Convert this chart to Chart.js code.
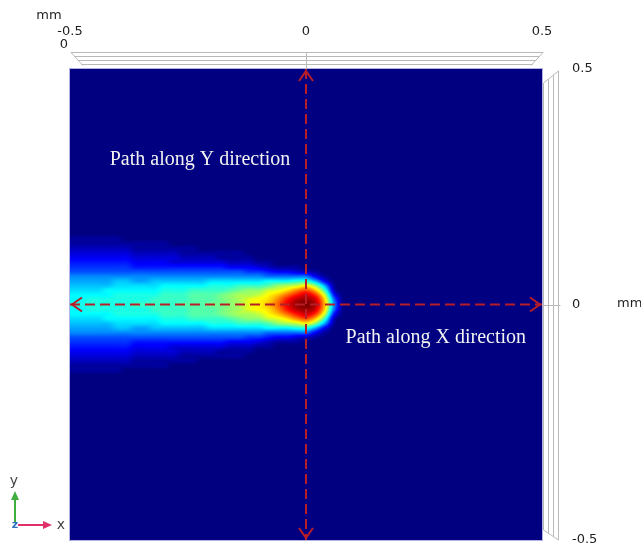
<!DOCTYPE html>
<html><head><meta charset="utf-8">
<script src="https://cdn.jsdelivr.net/npm/chart.js@4/dist/chart.umd.min.js"></script>
<style>html,body{margin:0;padding:0;background:#fff;}#wrap{width:641px;height:549px;position:relative;}</style>
</head><body><div id="wrap"><canvas id="c"></canvas></div>
<script>
// ---- axis ticks (mm)
const xTickValues = [-0.5, 0, 0.5];
const yTickValues = [-0.5, 0, 0.5];
// ---- heat-map grid: node positions (mm)
const gridX = [-0.5,-0.48,-0.46,-0.44,-0.42,-0.4,-0.38,-0.36,-0.34,-0.32,-0.3,-0.28,-0.26,-0.24,-0.22,-0.2,-0.18,-0.16,-0.14,-0.12,-0.1,-0.08,-0.06,-0.04,-0.02,0,0.02,0.04,0.06,0.08,0.1];
const gridY = [0.16,0.15,0.14,0.13,0.12,0.11,0.1,0.09,0.08,0.07,0.06,0.05,0.04,0.03,0.02,0.01,0,-0.01,-0.02,-0.03,-0.04,-0.05,-0.06,-0.07,-0.08,-0.09,-0.1,-0.11,-0.12,-0.13,-0.14,-0.15,-0.16];
// ---- field level per grid node, base-36 digit (0..z = 0..35 of full scale), one string per gridY row, one char per gridX column
const fieldRows = [
"0000000000000000000000000000000",
"0000000000000000000000000000000",
"1111110000000000000000000000000",
"1111111111100000000000000000000",
"2222222111111100000000000000000",
"3333333222221111111000000000000",
"4444444333332222111100000000000",
"5555555444433333322211000000000",
"6666666555555555544432111000000",
"7777777777777777777665443210000",
"9999999999999999999998888841000",
"aaaaabbaabbbbbbccccccdddeea4000",
"bbbbbcccccdddddeeefffgijkmia100",
"ccccddddddeeeffffghiiklnqsof200",
"dddddeeeeefffggghijjkmoruwtk500",
"ddeeeeeeeffffggghijlmnquxywn800",
"eeeeeeefffffggghhijlmorvyzxo900",
"ddeeeeeeeffffggghijlmnquxywn800",
"dddddeeeeefffggghijjkmoruwtk500",
"ccccddddddeeeffffghiiklnqsof200",
"bbbbbcccccdddddeeefffgijkmia100",
"aaaaabbaabbbbbbccccccdddeea4000",
"9999999999999999999998888841000",
"7777777777777777777665443210000",
"6666666555555555544432111000000",
"5555555444433333322211000000000",
"4444444333332222111100000000000",
"3333333222221111111000000000000",
"2222222111111100000000000000000",
"1111111111100000000000000000000",
"1111110000000000000000000000000",
"0000000000000000000000000000000",
"0000000000000000000000000000000"
];
// ---- probe paths (mm)
const pathAlongX = [{x:-0.5,y:0},{x:0.5,y:0}];
const pathAlongY = [{x:0,y:0.5},{x:0,y:-0.5}];
const pathLabels = [
  {text:'Path along Y direction', x:-0.2246, y:0.308},
  {text:'Path along X direction', x:0.275, y:-0.07}
];

function jet(v){
  const c = t => Math.max(0, Math.min(1, t));
  return [c(Math.min(4*v-1.5, -4*v+4.5)), c(Math.min(4*v-0.5, -4*v+3.5)), c(Math.min(4*v+0.5, -4*v+2.5))].map(t=>Math.round(t*255));
}
const PATH_COLOR = '#b81e28';
const TXT = '#1e1e1e';
const FONT = '13px "DejaVu Sans"';

// node lookup: outside the grid the field is background (0); left edge clamps (field continues to the boundary)
const nx = gridX.length, ny = gridY.length;
const nodes = fieldRows.map(r => Array.from(r).map(ch => (parseInt(ch,36)||0)/35));
function node(j,i){
  if (j<0 || j>=ny || i>=nx) return 0;
  if (i<0) i = 0;
  return nodes[j][i];
}
function cr(p0,p1,p2,p3,t){
  return p1 + 0.5*t*(p2-p0 + t*(2*p0-5*p1+4*p2-p3 + t*(3*(p1-p2)+p3-p0)));
}
function sampleField(fi,fj){
  const i = Math.floor(fi), j = Math.floor(fj), tx = fi-i, ty = fj-j;
  const rows = [];
  for (let m=-1;m<=2;m++) rows.push(cr(node(j+m,i-1),node(j+m,i),node(j+m,i+1),node(j+m,i+2),tx));
  return Math.max(0, Math.min(1, cr(rows[0],rows[1],rows[2],rows[3],ty)));
}

const heatmap = {
  id:'heatmap',
  beforeDatasetsDraw(chart){
    const {ctx, chartArea:a, scales:{x,y}} = chart;
    const W = Math.round(a.width), H = Math.round(a.height);
    const L = Math.round(a.left), T = Math.round(a.top);
    const img = ctx.createImageData(W, H);
    const dx = gridX[1]-gridX[0], dy = gridY[0]-gridY[1];
    for (let py=0; py<H; py++){
      const yv = y.getValueForPixel(T+py+0.5);
      const fj = (gridY[0]-yv)/dy;
      for (let px=0; px<W; px++){
        const xv = x.getValueForPixel(L+px+0.5);
        const fi = (xv-gridX[0])/dx;
        const v = sampleField(fi,fj);
        const col = jet(v); const p = (py*W+px)*4;
        img.data[p]=col[0]; img.data[p+1]=col[1]; img.data[p+2]=col[2]; img.data[p+3]=255;
      }
    }
    ctx.putImageData(img, L, T);
  },
  afterDatasetsDraw(chart){
    const {ctx, chartArea:a, scales:{x,y}} = chart;
    ctx.save();
    ctx.strokeStyle = PATH_COLOR; ctx.lineWidth = 2; ctx.setLineDash([]);
    const chevron = (px,py,dxu,dyu) => {
      const len = 10, w = 7;
      const bx = px - dxu*len, by = py - dyu*len;
      ctx.beginPath();
      ctx.moveTo(bx - dyu*w, by + dxu*w); ctx.lineTo(px,py); ctx.lineTo(bx + dyu*w, by - dxu*w);
      ctx.stroke();
    };
    [pathAlongX, pathAlongY].forEach(pth=>{
      const p0 = {x:x.getPixelForValue(pth[0].x), y:y.getPixelForValue(pth[0].y)};
      const p1 = {x:x.getPixelForValue(pth[1].x), y:y.getPixelForValue(pth[1].y)};
      const d = Math.hypot(p1.x-p0.x,p1.y-p0.y); const ux=(p1.x-p0.x)/d, uy=(p1.y-p0.y)/d;
      chevron(p0.x+ux*2, p0.y+uy*2, -ux, -uy);
      chevron(p1.x-ux*2, p1.y-uy*2, ux, uy);
    });
    ctx.fillStyle = '#f2f2f2'; ctx.font = '20px "Liberation Serif"';
    ctx.textAlign = 'center'; ctx.textBaseline = 'middle';
    pathLabels.forEach(l=>ctx.fillText(l.text, x.getPixelForValue(l.x), y.getPixelForValue(l.y)));
    ctx.strokeStyle = 'rgba(170,170,225,0.9)'; ctx.lineWidth = 1;
    ctx.strokeRect(a.left-0.5, a.top-0.5, a.width+1, a.height+1);
    ctx.restore();
  },
  afterDraw(chart){
    const {ctx, chartArea:a, scales:{x,y}} = chart;
    ctx.save();
    ctx.strokeStyle = '#b9b9b9'; ctx.lineWidth = 1;
    const ln = (x1,y1,x2,y2)=>{ctx.beginPath();ctx.moveTo(x1,y1);ctx.lineTo(x2,y2);ctx.stroke();};
    const tL = a.left+1, tR = a.right+1, t0 = a.top-16.5;
    [0,4,8,12].forEach(o=>{ const s = o*0.86; ln(tL+s, t0+o, tR-s, t0+o); });
    ln(tL, t0, tL+12, t0+13); ln(tR, t0, tR-12, t0+13);
    const x0 = Math.round(x.getPixelForValue(0))+0.5;
    ln(x0, t0, x0, a.top);
    const rx = a.right+1.5;
    [0,5,10,15].forEach(o=>{ ln(rx+o, a.top+14-o*0.8, rx+o, a.bottom-10+o*0.65); });
    ln(rx, a.top+14, rx+15, a.top+2); ln(rx, a.bottom-10, rx+15, a.bottom);
    const y0 = Math.round(y.getPixelForValue(0))+0.5;
    ln(a.right, y0, rx+17, y0);
    ctx.fillStyle = TXT; ctx.font = FONT; ctx.textBaseline = 'middle';
    ctx.textAlign = 'center';
    ctx.fillText('mm', 49, 16);
    ctx.fillText('0', 64, 45);
    ctx.textAlign = 'left';
    ctx.fillText('mm', 617, 304);
    const ox = 15, oy = 525;
    ctx.strokeStyle = '#3fae3f'; ctx.fillStyle = '#3fae3f'; ctx.lineWidth = 2;
    ln(ox, oy-3, ox, 498);
    ctx.beginPath(); ctx.moveTo(ox, 491); ctx.lineTo(ox-4, 500); ctx.lineTo(ox+4, 500); ctx.closePath(); ctx.fill();
    ctx.strokeStyle = '#e0306a'; ctx.fillStyle = '#e0306a';
    ln(ox+3, oy, 44, oy);
    ctx.beginPath(); ctx.moveTo(52, oy); ctx.lineTo(43, oy-4); ctx.lineTo(43, oy+4); ctx.closePath(); ctx.fill();
    ctx.fillStyle = '#2d6fc0'; ctx.font = 'bold 11px "DejaVu Sans"'; ctx.textAlign='center';
    ctx.fillText('z', ox, oy);
    ctx.fillStyle = '#444'; ctx.font = '14px "DejaVu Sans"';
    ctx.fillText('y', 14, 481);
    ctx.fillText('x', 61, 525);
    ctx.restore();
  }
};

const lineDs = (data) => ({data, showLine:true, borderColor:PATH_COLOR, borderWidth:2, borderDash:[10,5], pointRadius:0, fill:false, tension:0});

new Chart(document.getElementById('c'), {
  type:'scatter',
  data:{datasets:[lineDs(pathAlongX), lineDs(pathAlongY)]},
  options:{
    responsive:true, maintainAspectRatio:false, animation:false,
    layout:{padding:{left:70, right:39, top:9, bottom:9}},
    plugins:{legend:{display:false}, tooltip:{enabled:false}},
    scales:{
      x:{type:'linear', position:'top', min:-0.5, max:0.5,
         grid:{display:false, drawTicks:false}, border:{display:false},
         afterBuildTicks: s => { s.ticks = xTickValues.map(v=>({value:v})); },
         afterFit: s => { s.height = 60; s.paddingLeft = 0; s.paddingRight = 0; },
         ticks:{padding:30, color:TXT, font:{family:'DejaVu Sans', size:13}, maxRotation:0, autoSkip:false, callback:v=>String(v)}},
      y:{type:'linear', position:'right', min:-0.5, max:0.5,
         grid:{display:false, drawTicks:false}, border:{display:false},
         afterBuildTicks: s => { s.ticks = yTickValues.map(v=>({value:v})); },
         afterFit: s => { s.width = 60; s.paddingTop = 0; s.paddingBottom = 0; },
         ticks:{padding:30, color:TXT, font:{family:'DejaVu Sans', size:13}, autoSkip:false, callback:v=>String(v)}}
    }
  },
  plugins:[heatmap]
});
</script></body></html>
